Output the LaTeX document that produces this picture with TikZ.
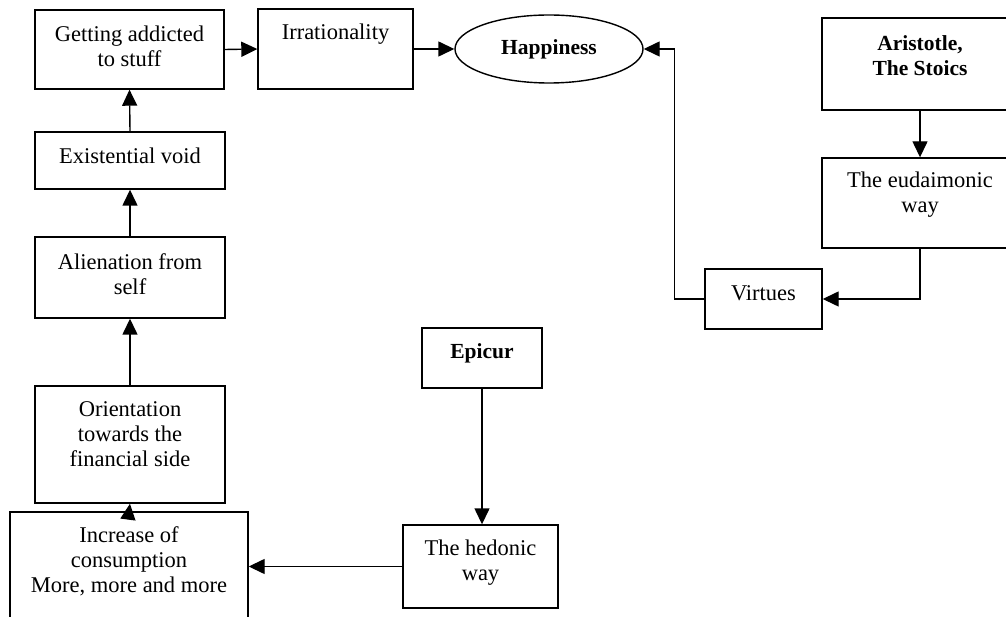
\documentclass[tikz,border=0pt]{standalone}
\usepackage{fontspec}
\setmainfont{Liberation Serif}
\usetikzlibrary{shapes.geometric,arrows.meta}
\begin{document}
\begin{tikzpicture}[x=1pt,y=-1pt,
  boxline/.style={draw=black,line width=1.4pt},
  txt/.style={align=center,inner sep=0pt,font=\fontsize{22.5}{25}\selectfont},
  btxt/.style={align=center,inner sep=0pt,font=\fontsize{21.5}{25}\selectfont\bfseries},
  arr/.style={line width=1.4pt,-{Triangle[length=16pt,width=15pt]}},
  ln/.style={line width=1.4pt}]
\useasboundingbox (0,0) rectangle (1006,617);
\clip (0,0) rectangle (1006,617);
\fill[white] (0,0) rectangle (1006,617);
% boxes: drawn as empty named nodes
\node[boxline,rectangle,minimum width=189pt,minimum height=79pt,inner sep=0pt] (get) at (129.5,49.5) {};
\node[boxline,rectangle,minimum width=155pt,minimum height=80pt,inner sep=0pt] (irr) at (335.5,49) {};
\node[boxline,ellipse,minimum width=188pt,minimum height=68pt,inner sep=0pt] (ell) at (549,49) {};
\node[boxline,rectangle,minimum width=190pt,minimum height=57pt,inner sep=0pt] (exist) at (130,160.5) {};
\node[boxline,rectangle,minimum width=190pt,minimum height=81pt,inner sep=0pt] (alien) at (130,277.5) {};
\node[boxline,rectangle,minimum width=190pt,minimum height=117pt,inner sep=0pt] (orient) at (130,444.5) {};
\node[boxline,rectangle,minimum width=238pt,minimum height=130pt,inner sep=0pt] (incr) at (129,577) {};
\node[boxline,rectangle,minimum width=155pt,minimum height=83pt,inner sep=0pt] (hed) at (480.5,566.5) {};
\node[boxline,rectangle,minimum width=120pt,minimum height=60pt,inner sep=0pt] (epi) at (482,358) {};
\node[boxline,rectangle,minimum width=196pt,minimum height=92pt,inner sep=0pt] (arist) at (920,64) {};
\node[boxline,rectangle,minimum width=196pt,minimum height=90pt,inner sep=0pt] (eud) at (920,203) {};
\node[boxline,rectangle,minimum width=117pt,minimum height=60pt,inner sep=0pt] (virt) at (763.5,299) {};
% texts
\node[txt] (tget) at (129.5,46) {Getting addicted\\to stuff};
\node[txt] (tirr) at (335.5,34) {Irrationality};
\node[btxt] (tell) at (549,49) {Happiness};
\node[txt] (texist) at (130,156) {Existential void};
\node[txt] (talien) at (130,274) {Alienation from\\self};
\node[txt] (torient) at (130,434.5) {Orientation\\towards the\\financial side};
\node[txt] (tincr) at (129,561.5) {Increase of\\consumption\\More, more and more};
\node[txt] (thed) at (480.5,562.5) {The hedonic\\way};
\node[btxt] (tepi) at (482,353) {Epicur};
\node[btxt] (tarist) at (920,55.5) {Aristotle,\\The Stoics};
\node[txt] (teud) at (920,195) {The eudaimonic\\way};
\node[txt] (tvirt) at (763.5,293) {Virtues};
% connectors
\draw[arr] (get.east) -- (irr.west);
\draw[arr] (irr.east) -- (ell.west);
\draw[arr] (virt.west) -- ++(-30,0) |- (ell.east);
\draw[arr] (arist.south) -- (eud.north);
\draw[arr] (eud.south) |- (virt.east);
\draw[arr] (exist.north) -- (get.south);
\draw[arr] (alien.north) -- (exist.south);
\draw[arr] (orient.north) -- (alien.south);
\draw[arr] (incr.north) -- (orient.south);
\draw[arr] (hed.west) -- (hed.west -| incr.east);
\draw[arr] (epi.south) -- (epi.south |- hed.north);
\end{tikzpicture}
\end{document}
